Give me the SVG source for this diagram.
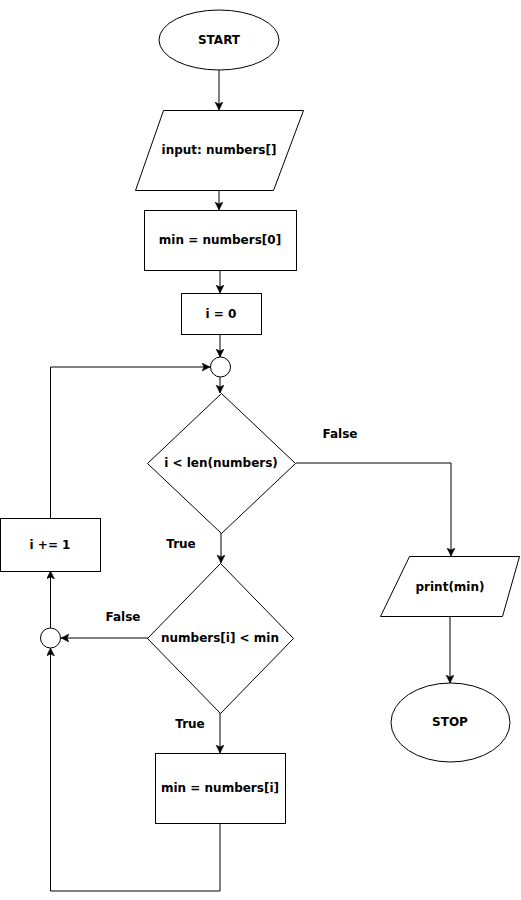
<svg xmlns="http://www.w3.org/2000/svg" width="521" height="900" viewBox="0 0 521 900">
<style>
.s{fill:#fff;stroke:#000;stroke-width:1}
.c{fill:none;stroke:#000;stroke-width:1}
text{font-family:"DejaVu Sans","Liberation Sans",sans-serif;font-weight:bold;font-size:12px;fill:#000;text-anchor:middle;dominant-baseline:central}
</style>
<defs>
<marker id="a" markerWidth="10" markerHeight="10" refX="8" refY="4" orient="auto" markerUnits="userSpaceOnUse">
<path d="M0,0 L8,4 L0,8 L2,4 z" fill="#000" stroke="#000" stroke-width="0.5"/>
</marker>
</defs>
<rect width="521" height="900" fill="#fff"/>
<g id="connectors">
<path class="c" d="M219,70 V110" marker-end="url(#a)"/>
<path class="c" d="M219,190 V210" marker-end="url(#a)"/>
<path class="c" d="M220,270 V293" marker-end="url(#a)"/>
<path class="c" d="M220,335 V357" marker-end="url(#a)"/>
<path class="c" d="M220,377 V393" marker-end="url(#a)"/>
<path class="c" d="M296,463 H451 V556" marker-end="url(#a)"/>
<path class="c" d="M221,533 V563" marker-end="url(#a)"/>
<path class="c" d="M148,638 H61" marker-end="url(#a)"/>
<path class="c" d="M220,713 V753" marker-end="url(#a)"/>
<path class="c" d="M220,823 V891 H50.5 V648" marker-end="url(#a)"/>
<path class="c" d="M50.5,628 V571" marker-end="url(#a)"/>
<path class="c" d="M50.5,518 V367 H210" marker-end="url(#a)"/>
<path class="c" d="M450,617 V683" marker-end="url(#a)"/>
<text x="340" y="434">False</text>
<text x="181" y="544">True</text>
<text x="123" y="617">False</text>
<text x="190" y="724">True</text>
</g>
<g id="start"><ellipse class="s" cx="219" cy="40" rx="60" ry="30"/><text x="219" y="40">START</text></g>
<g id="input"><path class="s" d="M163.5,110.5 H303.5 L273.5,190.5 H135.5 Z"/><text x="219" y="150">input: numbers[]</text></g>
<g id="init-min"><rect class="s" x="144.5" y="210.5" width="152" height="60"/><text x="220" y="240">min = numbers[0]</text></g>
<g id="init-i"><rect class="s" x="181.5" y="293.5" width="80" height="41"/><text x="221" y="314">i = 0</text></g>
<g id="merge1"><circle class="s" cx="220.5" cy="367" r="10"/></g>
<g id="cond1"><path class="s" d="M221.5,393.5 L295.5,463.5 L221.5,533.5 L147.5,463.5 Z"/><text x="221" y="463">i &lt; len(numbers)</text></g>
<g id="incr"><rect class="s" x="0.5" y="518.5" width="100" height="53"/><text x="50" y="545">i += 1</text></g>
<g id="merge2"><circle class="s" cx="50.5" cy="638" r="10"/></g>
<g id="cond2"><path class="s" d="M220.5,563.5 L293.5,638.5 L220.5,713.5 L147.5,638.5 Z"/><text x="220" y="638">numbers[i] &lt; min</text></g>
<g id="update"><rect class="s" x="155.5" y="753.5" width="130" height="70"/><text x="220" y="788">min = numbers[i]</text></g>
<g id="print"><path class="s" d="M409.5,556.5 H519.5 L502.5,616.5 H380.5 Z"/><text x="450" y="587">print(min)</text></g>
<g id="stop"><ellipse class="s" cx="450.5" cy="722.5" rx="59.5" ry="39.5"/><text x="450" y="722">STOP</text></g>
</svg>
